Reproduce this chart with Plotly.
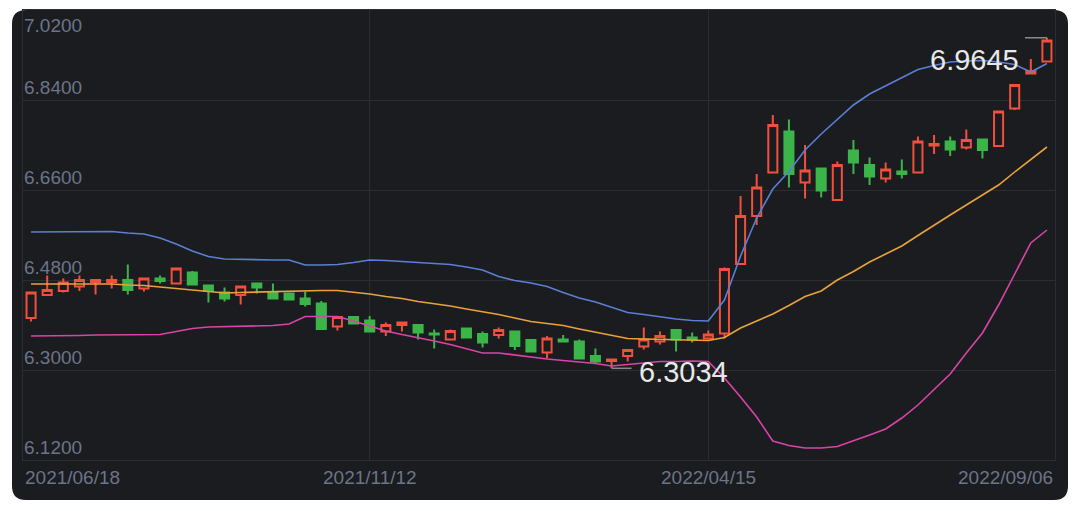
import plotly.graph_objects as go

# ---------------- data ----------------
opens = [6.404, 6.450, 6.458, 6.467, 6.476, 6.476, 6.480, 6.463, 6.483, 6.473,
         6.495, 6.469, 6.455, 6.450, 6.473, 6.455, 6.453, 6.443, 6.433, 6.387,
         6.406, 6.399, 6.377, 6.390, 6.390, 6.373, 6.361, 6.383, 6.372, 6.370,
         6.377, 6.360, 6.335, 6.361, 6.357, 6.328, 6.318, 6.328, 6.347, 6.357,
         6.380, 6.365, 6.363, 6.373, 6.512, 6.608, 6.695, 6.777, 6.675, 6.703,
         6.640, 6.739, 6.710, 6.683, 6.697, 6.695, 6.749, 6.757, 6.745, 6.761,
         6.748, 6.823, 6.893, 6.917]
highs = [6.456, 6.489, 6.483, 6.489, 6.480, 6.489, 6.511, 6.483, 6.489, 6.503,
         6.498, 6.471, 6.465, 6.467, 6.473, 6.473, 6.455, 6.457, 6.438, 6.406,
         6.406, 6.408, 6.395, 6.395, 6.390, 6.381, 6.381, 6.383, 6.377, 6.385,
         6.377, 6.360, 6.368, 6.370, 6.361, 6.343, 6.321, 6.340, 6.385, 6.377,
         6.380, 6.375, 6.379, 6.505, 6.648, 6.692, 6.810, 6.801, 6.750, 6.703,
         6.717, 6.760, 6.725, 6.715, 6.721, 6.767, 6.770, 6.767, 6.781, 6.761,
         6.817, 6.870, 6.922, 6.9645]
lows = [6.397, 6.450, 6.455, 6.458, 6.451, 6.463, 6.451, 6.457, 6.473, 6.473,
        6.471, 6.435, 6.437, 6.431, 6.453, 6.443, 6.441, 6.427, 6.382, 6.379,
        6.393, 6.377, 6.368, 6.377, 6.361, 6.343, 6.359, 6.365, 6.345, 6.363,
        6.340, 6.337, 6.323, 6.357, 6.323, 6.312, 6.3034, 6.317, 6.341, 6.351,
        6.337, 6.355, 6.363, 6.363, 6.512, 6.590, 6.695, 6.665, 6.643, 6.645,
        6.640, 6.692, 6.670, 6.675, 6.683, 6.695, 6.732, 6.728, 6.741, 6.723,
        6.748, 6.820, 6.893, 6.917]
closes = [6.455, 6.460, 6.475, 6.480, 6.480, 6.480, 6.460, 6.483, 6.478, 6.503,
          6.471, 6.458, 6.443, 6.467, 6.465, 6.443, 6.441, 6.432, 6.382, 6.406,
          6.393, 6.377, 6.390, 6.395, 6.375, 6.371, 6.378, 6.365, 6.355, 6.380,
          6.348, 6.337, 6.363, 6.357, 6.323, 6.317, 6.321, 6.340, 6.361, 6.368,
          6.361, 6.361, 6.371, 6.502, 6.608, 6.665, 6.790, 6.692, 6.699, 6.659,
          6.710, 6.715, 6.687, 6.701, 6.692, 6.757, 6.752, 6.741, 6.760, 6.740,
          6.817, 6.870, 6.898, 6.959]

upper_band = [6.576, 6.576, 6.576, 6.577, 6.577, 6.577, 6.574, 6.572, 6.564, 6.552,
              6.538, 6.527, 6.522, 6.521, 6.521, 6.520, 6.520, 6.510, 6.510, 6.511,
              6.515, 6.520, 6.519, 6.517, 6.516, 6.514, 6.511, 6.506, 6.500, 6.487,
              6.479, 6.474, 6.467, 6.455, 6.444, 6.436, 6.426, 6.415, 6.411, 6.406,
              6.402, 6.399, 6.398, 6.440, 6.528, 6.604, 6.662, 6.697, 6.740, 6.772,
              6.802, 6.830, 6.852, 6.868, 6.885, 6.901, 6.909, 6.916, 6.918, 6.919,
              6.916, 6.911, 6.896, 6.913]
middle_band = [6.472, 6.472, 6.473, 6.473, 6.473, 6.472, 6.470, 6.469, 6.466, 6.463,
               6.460, 6.457, 6.454, 6.455, 6.456, 6.457, 6.458, 6.459, 6.459, 6.459,
               6.456, 6.452, 6.447, 6.443, 6.437, 6.433, 6.428, 6.422, 6.417, 6.411,
               6.404, 6.397, 6.393, 6.389, 6.382, 6.376, 6.369, 6.363, 6.362, 6.361,
               6.361, 6.360, 6.359, 6.365, 6.384, 6.398, 6.412, 6.429, 6.447, 6.458,
               6.480, 6.497, 6.516, 6.532, 6.548, 6.569, 6.590, 6.610, 6.630, 6.650,
               6.670, 6.696, 6.721, 6.746]
lower_band = [6.368, 6.368, 6.369, 6.369, 6.370, 6.370, 6.370, 6.370, 6.371, 6.377,
              6.383, 6.386, 6.387, 6.387, 6.388, 6.389, 6.392, 6.407, 6.407, 6.407,
              6.398, 6.388, 6.378, 6.371, 6.365, 6.358, 6.351, 6.342, 6.334, 6.334,
              6.330, 6.325, 6.322, 6.319, 6.316, 6.313, 6.308, 6.311, 6.314, 6.317,
              6.317, 6.318, 6.317, 6.284, 6.246, 6.206, 6.158, 6.149, 6.144, 6.144,
              6.147, 6.158, 6.170, 6.182, 6.204, 6.230, 6.260, 6.292, 6.334, 6.374,
              6.430, 6.492, 6.554, 6.580]

tick_index = [0, 21, 42, 63]
tick_text = ["2021/06/18", "2021/11/12", "2022/04/15", "2022/09/06"]
y_ticks = [6.12, 6.30, 6.48, 6.66, 6.84, 7.02]
y_tick_text = ["6.1200", "6.3000", "6.4800", "6.6600", "6.8400", "7.0200"]

# ---------------- style ----------------
CARD = "#1b1c1f"
GRID = "#2c2d31"
LABEL = "#6c7488"
RED = "#f0503c"
GREEN = "#3bb54a"
FONT = "Liberation Sans, Arial, sans-serif"

W, H = 1080, 511
ML, MR, MT, MB = 23, 25, 10, 51
PW, PH = W - ML - MR, H - MT - MB

n = len(opens)
xs = list(range(n))

fig = go.Figure()
fig.add_trace(go.Candlestick(
    x=xs, open=opens, high=highs, low=lows, close=closes,
    increasing=dict(line=dict(color=RED, width=2), fillcolor=CARD),
    decreasing=dict(line=dict(color=GREEN, width=2), fillcolor=GREEN),
    whiskerwidth=0, hoverinfo="skip", showlegend=False,
))
for vals, col in [(upper_band, "#5a7fd4"), (middle_band, "#e9a23b"), (lower_band, "#d944a8")]:
    fig.add_trace(go.Scatter(x=xs, y=vals, mode="lines",
                             line=dict(color=col, width=1.6),
                             hoverinfo="skip", showlegend=False))

# card background with rounded corners (pixel -> paper conversion)
def px(xp):
    return (xp - ML) / PW
def py(yp):
    return (H - MB - yp) / PH

L, R, T, B, rad = 12, 1068, 10, 500, 14
path = (f"M {px(L+rad)},{py(T)} L {px(R-rad)},{py(T)} Q {px(R)},{py(T)} {px(R)},{py(T+rad)} "
        f"L {px(R)},{py(B-rad)} Q {px(R)},{py(B)} {px(R-rad)},{py(B)} "
        f"L {px(L+rad)},{py(B)} Q {px(L)},{py(B)} {px(L)},{py(B-rad)} "
        f"L {px(L)},{py(T+rad)} Q {px(L)},{py(T)} {px(L+rad)},{py(T)} Z")
shapes = [dict(type="path", path=path, xref="paper", yref="paper",
               fillcolor=CARD, line=dict(width=0), layer="below")]

# min / max markers
imax = max(range(n), key=lambda i: highs[i])
imin = min(range(n), key=lambda i: lows[i])
shapes.append(dict(type="line", xref="x", yref="y", xsizemode="pixel", xanchor=imax,
                   x0=-22, x1=0, y0=highs[imax], y1=highs[imax],
                   line=dict(color="#8a8a8a", width=1.5)))
shapes.append(dict(type="line", xref="x", yref="y", xsizemode="pixel", xanchor=imin,
                   x0=0, x1=20, y0=lows[imin], y1=lows[imin],
                   line=dict(color="#8a8a8a", width=1.5)))

annotations = []
for v, t in zip(y_ticks, y_tick_text):
    top = v == max(y_ticks)
    annotations.append(dict(x=0, xref="paper", y=v, yref="y", text=t, showarrow=False,
                            xanchor="left", yanchor="top" if top else "bottom",
                            xshift=-1, yshift=-3 if top else 0,
                            font=dict(family=FONT, size=19, color=LABEL)))
for i, (idx, t) in enumerate(zip(tick_index, tick_text)):
    if i == 0:
        xv, anc = -0.5, "left"
    elif i == len(tick_index) - 1:
        xv, anc = n - 0.5, "right"
    else:
        xv, anc = idx, "center"
    annotations.append(dict(x=xv, xref="x", y=0, yref="paper", text=t, showarrow=False,
                            xanchor=anc, yanchor="top", yshift=-5,
                            font=dict(family=FONT, size=19, color=LABEL)))
annotations.append(dict(x=imax, y=highs[imax], xref="x", yref="y", text=f"{highs[imax]:.4f}",
                        showarrow=False, xanchor="right", yanchor="middle",
                        xshift=-26, yshift=-22,
                        font=dict(family=FONT, size=29, color="#e8e8e8")))
annotations.append(dict(x=imin, y=lows[imin], xref="x", yref="y", text=f"{lows[imin]:.4f}",
                        showarrow=False, xanchor="left", yanchor="middle",
                        xshift=25, yshift=-4,
                        font=dict(family=FONT, size=29, color="#e8e8e8")))

fig.update_layout(
    width=W, height=H,
    margin=dict(l=ML, r=MR, t=MT, b=MB),
    paper_bgcolor="#ffffff",
    plot_bgcolor="rgba(0,0,0,0)",
    boxgap=0.25, boxgroupgap=0.25,
    shapes=shapes, annotations=annotations,
    showlegend=False, hovermode=False,
    xaxis=dict(range=[-0.5, n - 0.5], rangeslider=dict(visible=False),
               tickvals=tick_index[1:-1], showticklabels=False,
               showgrid=True, gridcolor=GRID, gridwidth=1, zeroline=False,
               showline=True, mirror=True, linecolor=GRID, linewidth=1, ticks=""),
    yaxis=dict(range=[min(y_ticks), max(y_ticks)], tickvals=y_ticks, showticklabels=False,
               showgrid=True, gridcolor=GRID, gridwidth=1, zeroline=False,
               showline=True, mirror=True, linecolor=GRID, linewidth=1, ticks=""),
)

fig.write_html("out.html", config={"displayModeBar": False},
               post_script="document.body.style.margin='0px';document.body.style.overflow='hidden';")
